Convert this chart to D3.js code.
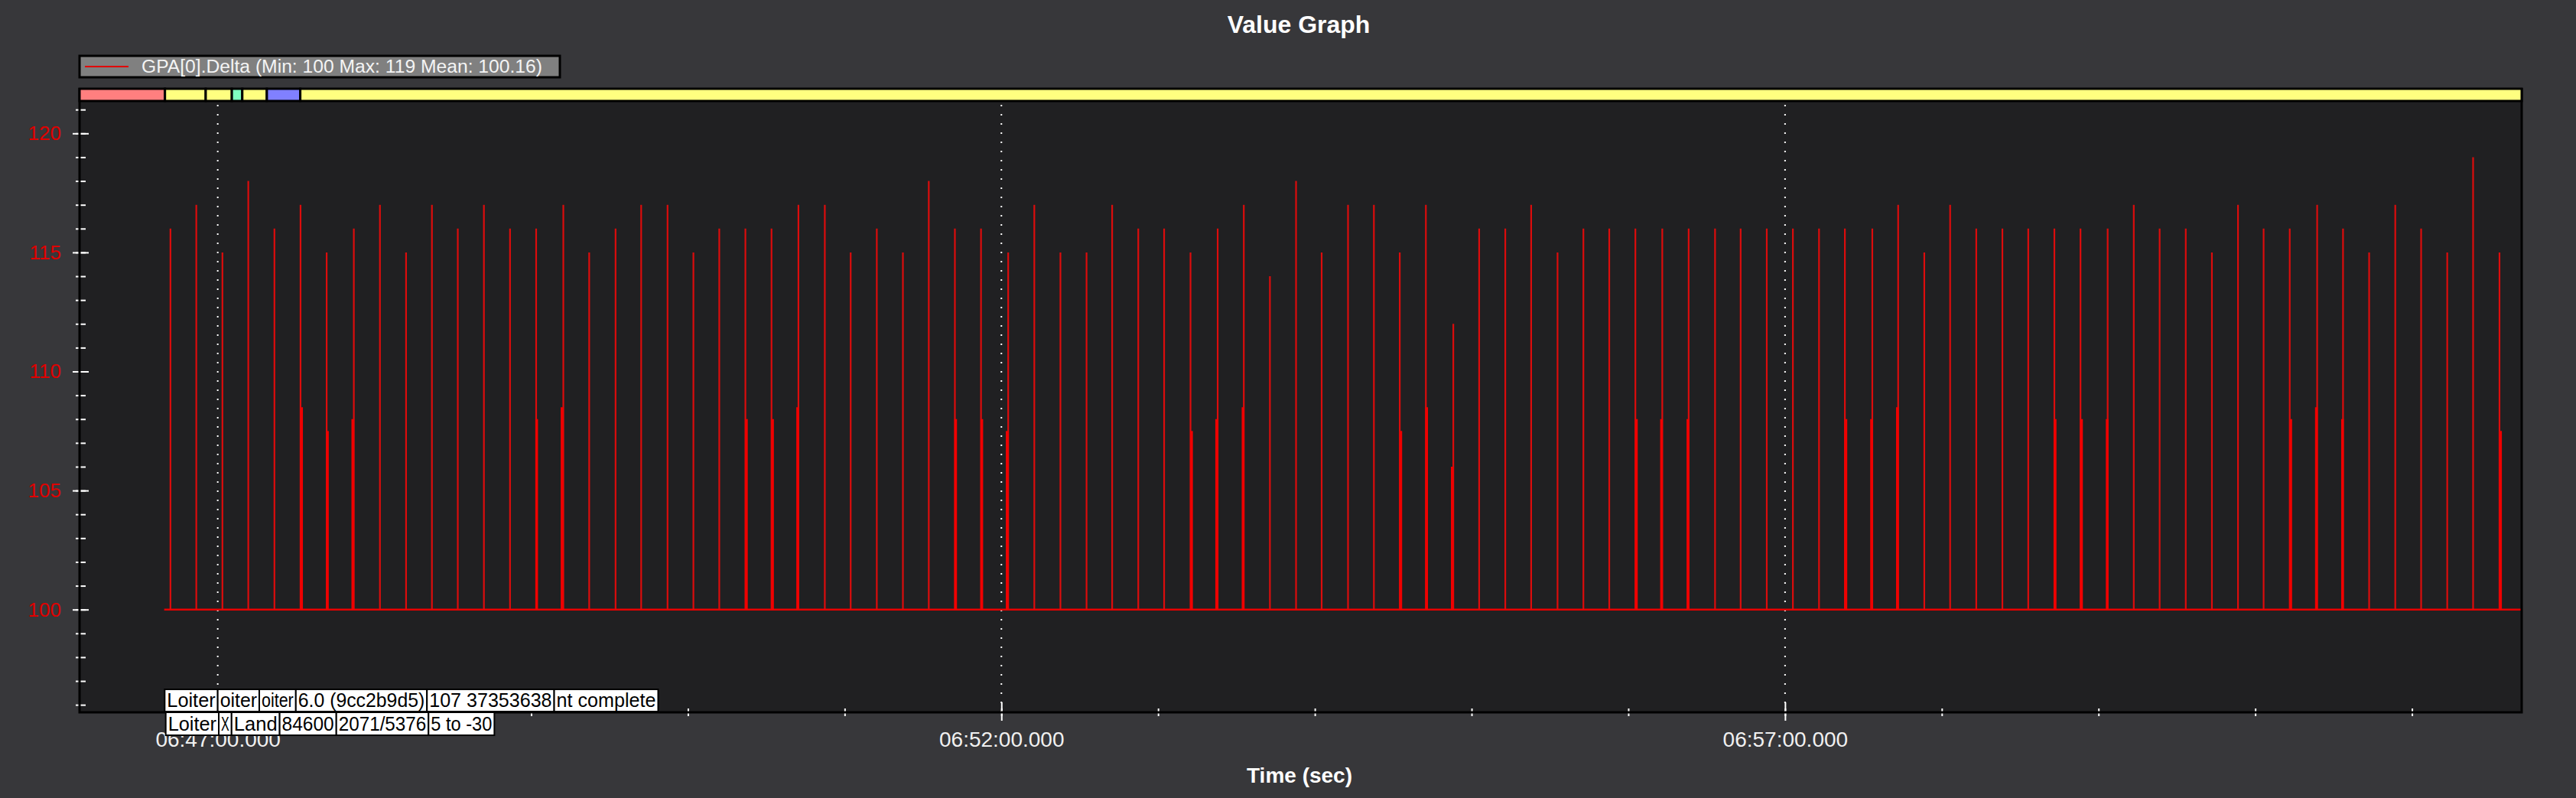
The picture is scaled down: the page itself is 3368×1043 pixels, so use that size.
<!DOCTYPE html>
<html>
<head>
<meta charset="utf-8">
<script src="https://cdn.jsdelivr.net/npm/d3@7"></script>
<style>
  body { margin: 0; background: #37373a; }
  svg { display: block; }
</style>
</head>
<body>
<div id="wrapper"></div>
<script>
// data
const seriesName = "GPA[0].Delta  (Min: 100 Max: 119 Mean: 100.16)"
const baselineValue = 100
const baselineSpan = ["06:46:39.5", "07:01:42.0"]
const axisSpan = ["06:46:07.1", "07:01:42.0"]

const spikeTimes = [
  "06:46:41.9", "06:46:51.8", "06:47:01.8", "06:47:11.7", "06:47:21.7", "06:47:31.7", "06:47:41.7", "06:47:52.1", "06:48:02.1", "06:48:12.1",
  "06:48:22.0", "06:48:31.9", "06:48:41.9", "06:48:51.9", "06:49:01.9", "06:49:12.3", "06:49:22.2", "06:49:32.3", "06:49:42.1", "06:49:52.2",
  "06:50:02.1", "06:50:12.0", "06:50:22.0", "06:50:32.0", "06:50:42.3", "06:50:52.4", "06:51:02.3", "06:51:12.3", "06:51:22.3", "06:51:32.2",
  "06:51:42.2", "06:51:52.2", "06:52:02.6", "06:52:12.6", "06:52:22.6", "06:52:32.6", "06:52:42.4", "06:52:52.4", "06:53:02.3", "06:53:12.4",
  "06:53:22.8", "06:53:32.8", "06:53:42.8", "06:53:52.8", "06:54:02.6", "06:54:12.7", "06:54:22.6", "06:54:32.5", "06:54:42.5", "06:54:53.0",
  "06:55:02.9", "06:55:12.9", "06:55:22.8", "06:55:32.9", "06:55:42.8", "06:55:52.7", "06:56:02.7", "06:56:13.0", "06:56:23.1", "06:56:33.2",
  "06:56:43.0", "06:56:53.0", "06:57:03.0", "06:57:13.0", "06:57:22.9", "06:57:33.4", "06:57:43.3", "06:57:53.3", "06:58:03.2", "06:58:13.2",
  "06:58:23.2", "06:58:33.1", "06:58:43.1", "06:58:53.1", "06:59:03.5", "06:59:13.5", "06:59:23.4", "06:59:33.4", "06:59:43.4", "06:59:53.4",
  "07:00:03.2", "07:00:13.2", "07:00:23.7", "07:00:33.6", "07:00:43.6", "07:00:53.6", "07:01:03.5", "07:01:13.5", "07:01:23.4", "07:01:33.5",
]
const spikeValues = [
  116, 117, 115, 118, 116, 117, 115, 116, 117, 115,
  117, 116, 117, 116, 116, 117, 115, 116, 117, 117,
  115, 116, 116, 116, 117, 117, 115, 116, 115, 118,
  116, 116, 115, 117, 115, 115, 117, 116, 116, 115,
  116, 117, 114, 118, 115, 117, 117, 115, 117, 112,
  116, 116, 117, 115, 116, 116, 116, 116, 116, 116,
  116, 116, 116, 116, 116, 116, 117, 115, 117, 116,
  116, 116, 116, 116, 116, 117, 116, 116, 115, 117,
  116, 116, 117, 116, 115, 117, 116, 115, 119, 115,
]

// the short, thicker spikes
const bumpTimes = [
  "06:47:32.1", "06:47:42.0", "06:47:51.7", "06:49:02.1", "06:49:11.8", "06:50:22.4", "06:50:32.4", "06:50:42.0", "06:51:42.5", "06:51:52.5",
  "06:52:02.2", "06:53:12.8", "06:53:22.4", "06:53:32.5", "06:54:32.9", "06:54:42.8", "06:54:52.6", "06:56:03.1", "06:56:12.7", "06:56:22.8",
  "06:57:23.3", "06:57:33.1", "06:57:43.0", "06:58:43.4", "06:58:53.5", "06:59:03.3", "07:00:13.6", "07:00:23.4", "07:00:33.4", "07:01:33.9",
]
const bumpValues = [
  108.5, 107.5, 108, 108, 108.5, 108, 108, 108.5, 108, 108,
  107.5, 107.5, 108, 108.5, 107.5, 108.5, 106, 108, 108, 108,
  108, 108, 108.5, 108, 108, 108, 108, 108.5, 108, 107.5,
]

// flight mode bar
const modeStarts = ["06:46:07.1", "06:46:39.8", "06:46:55.4", "06:47:05.4", "06:47:09.4", "06:47:18.8", "06:47:31.6"]
const modeColors = ["#ff7f7f", "#ffff80", "#ffff80", "#80ffc0", "#ffff80", "#8080ff", "#ffff80"]

// message boxes at the bottom (text as visible)
const row1Times = ["06:46:39.7", "06:47:00.0", "06:47:15.9", "06:47:29.9", "06:48:20.1", "06:49:08.8", "06:49:48.6"]
const row1Texts = ["Loiter", "oiter", "oiter", "6.0 (9cc2b9d5)", "107 37353638", "nt complete"]
const row2Times = ["06:46:40.1", "06:47:00.4", "06:47:05.3", "06:47:23.7", "06:47:45.4", "06:48:20.7", "06:48:45.9"]
const row2Texts = ["Loiter", "X", "Land", "84600", "2071/5376", "5 to -30"]

const yMajorTicks = [100, 105, 110, 115, 120]
const yMinorTicks = d3.range(96, 122)
const xMajorTicks = ["06:47:00.0", "06:52:00.0", "06:57:00.0"]

function drawChart() {
  const clock = s => {
    const [h, m, sec] = s.split(":").map(Number)
    return new Date(2000, 0, 1, h, m, 0, Math.round(sec * 1000))
  }

  const width = 3368
  const height = 1043
  const plot = { left: 104, right: 3297, top: 115, bottom: 931, barBottom: 133 }

  const svg = d3.select("#wrapper")
    .append("svg")
      .attr("width", width)
      .attr("height", height)
      .style("font-family", "'Liberation Sans', Arial, sans-serif")

  svg.append("rect")
      .attr("width", width)
      .attr("height", height)
      .attr("fill", "#37373a")

  // scales
  const xScale = d3.scaleTime()
    .domain(axisSpan.map(clock))
    .range([plot.left, plot.right])
  const yScale = d3.scaleLinear()
    .domain([95.684, 121.906])
    .range([plot.bottom, plot.top])

  // title
  svg.append("text")
      .attr("x", 1698)
      .attr("y", 43)
      .attr("text-anchor", "middle")
      .attr("fill", "#ffffff")
      .attr("font-weight", "bold")
      .attr("font-size", 32)
      .text("Value Graph")

  // plot background
  svg.append("rect")
      .attr("x", plot.left)
      .attr("y", plot.top)
      .attr("width", plot.right - plot.left)
      .attr("height", plot.bottom - plot.top)
      .attr("fill", "#202022")

  // dotted grid on major times
  svg.append("g")
    .selectAll("line")
    .data(xMajorTicks.map(clock))
    .join("line")
      .attr("x1", d => xScale(d))
      .attr("x2", d => xScale(d))
      .attr("y1", plot.barBottom + 4)
      .attr("y2", plot.bottom)
      .attr("stroke", "#ffffff")
      .attr("stroke-width", 2)
      .attr("stroke-dasharray", "2,10")

  // x axis labels (drawn before the message boxes, which cover them)
  const xAxis = svg.append("g")
      .attr("transform", `translate(0,${plot.bottom})`)
      .call(d3.axisBottom(xScale)
        .tickValues(xMajorTicks.map(clock))
        .tickFormat(d3.timeFormat("%H:%M:%S.%L"))
        .tickSize(0)
        .tickPadding(0))
  xAxis.select(".domain").remove()
  xAxis.selectAll("text")
      .attr("y", 45)
      .attr("dy", 0)
      .attr("fill", "#f0f0f0")
      .attr("font-size", 28)
      .attr("font-family", "'Liberation Sans', Arial, sans-serif")

  // minor x ticks (every minute) and major ticks
  const xMinor = svg.append("g")
      .attr("transform", `translate(0,${plot.bottom})`)
      .call(d3.axisBottom(xScale)
        .ticks(d3.timeMinute.every(1))
        .tickFormat(""))
  xMinor.select(".domain").remove()
  xMinor.selectAll("line")
      .attr("y1", -5)
      .attr("y2", 5)
      .attr("stroke", "#ffffff")
      .attr("stroke-width", 2)
  xAxis.selectAll(".tick line")
      .attr("y1", -13)
      .attr("y2", 11)
      .attr("stroke", "#ffffff")
      .attr("stroke-width", 2)

  // series
  const series = svg.append("g")
  series.append("path")
      .datum(baselineSpan.map(clock))
      .attr("d", d3.line().x(d => xScale(d)).y(() => yScale(baselineValue)))
      .attr("fill", "none")
      .attr("stroke", "#e80000")
      .attr("stroke-width", 2.5)

  series.selectAll(".spike")
    .data(spikeTimes.map((t, i) => ({ time: clock(t), value: spikeValues[i] })))
    .join("line")
      .attr("class", "spike")
      .attr("x1", d => xScale(d.time))
      .attr("x2", d => xScale(d.time))
      .attr("y1", yScale(baselineValue))
      .attr("y2", d => yScale(d.value))
      .attr("stroke", "#dc0c0c")
      .attr("stroke-width", 2.2)

  series.selectAll(".bump")
    .data(bumpTimes.map((t, i) => ({ time: clock(t), value: bumpValues[i] })))
    .join("line")
      .attr("class", "bump")
      .attr("x1", d => xScale(d.time))
      .attr("x2", d => xScale(d.time))
      .attr("y1", yScale(baselineValue))
      .attr("y2", d => yScale(d.value))
      .attr("stroke", "#f00000")
      .attr("stroke-width", 3.5)

  // y axis
  const yMinor = svg.append("g")
      .attr("transform", `translate(${plot.left},0)`)
      .call(d3.axisLeft(yScale).tickValues(yMinorTicks).tickFormat(""))
  yMinor.select(".domain").remove()
  yMinor.selectAll("line")
      .attr("x1", -5)
      .attr("x2", 8)
      .attr("stroke", "#ffffff")
      .attr("stroke-width", 2)

  const yAxis = svg.append("g")
      .attr("transform", `translate(${plot.left},0)`)
      .call(d3.axisLeft(yScale).tickValues(yMajorTicks).tickSize(0).tickPadding(24))
  yAxis.select(".domain").remove()
  yAxis.selectAll("line")
      .attr("x1", -9)
      .attr("x2", 12)
      .attr("stroke", "#ffffff")
      .attr("stroke-width", 2)
  yAxis.selectAll("text")
      .attr("fill", "#e00000")
      .attr("font-size", 26)
      .attr("font-family", "'Liberation Sans', Arial, sans-serif")

  // plot frame
  svg.append("path")
      .attr("d", `M${plot.left},${plot.top}V${plot.bottom}H${plot.right}V${plot.top}`)
      .attr("fill", "none")
      .attr("stroke", "#000000")
      .attr("stroke-width", 3)

  // mode bar
  const modeEnds = [...modeStarts.slice(1), axisSpan[1]]
  svg.append("g")
    .selectAll("rect")
    .data(modeStarts.map((s, i) => ({ start: clock(s), end: clock(modeEnds[i]), color: modeColors[i] })))
    .join("rect")
      .attr("x", d => xScale(d.start))
      .attr("y", plot.top + 1)
      .attr("width", d => xScale(d.end) - xScale(d.start))
      .attr("height", plot.barBottom - plot.top - 2)
      .attr("fill", d => d.color)
      .attr("stroke", "#000000")
      .attr("stroke-width", 3)

  // message boxes
  function drawRow(times, texts, top, rowHeight) {
    const items = texts.map((t, i) => ({ text: t, start: clock(times[i]), end: clock(times[i + 1]) }))
    const g = svg.append("g")
    const box = g.selectAll("g")
      .data(items)
      .join("g")
    box.append("rect")
        .attr("x", d => xScale(d.start))
        .attr("y", top)
        .attr("width", d => xScale(d.end) - xScale(d.start))
        .attr("height", rowHeight)
        .attr("fill", "#ffffff")
        .attr("stroke", "#000000")
        .attr("stroke-width", 2)
    box.append("text")
        .attr("x", d => xScale(d.start) + 3)
        .attr("y", top + rowHeight - 6)
        .attr("fill", "#000000")
        .attr("font-size", 25)
        .attr("font-family", "'Liberation Sans Narrow', 'Liberation Sans', Arial, sans-serif")
        .attr("textLength", d => Math.max(4, xScale(d.end) - xScale(d.start) - 6))
        .attr("lengthAdjust", "spacingAndGlyphs")
        .text(d => d.text)
  }
  drawRow(row1Times, row1Texts, 901, 29)
  drawRow(row2Times, row2Texts, 931, 30)

  // x axis title
  svg.append("text")
      .attr("x", 1699)
      .attr("y", 1023)
      .attr("text-anchor", "middle")
      .attr("fill", "#ffffff")
      .attr("font-weight", "bold")
      .attr("font-size", 28)
      .text("Time (sec)")

  // legend
  const legend = svg.append("g")
  legend.append("rect")
      .attr("x", 104)
      .attr("y", 73)
      .attr("width", 628)
      .attr("height", 28)
      .attr("fill", "#808080")
      .attr("stroke", "#000000")
      .attr("stroke-width", 3)
  legend.append("line")
      .attr("x1", 111)
      .attr("x2", 168)
      .attr("y1", 87)
      .attr("y2", 87)
      .attr("stroke", "#e00000")
      .attr("stroke-width", 2)
  legend.append("text")
      .attr("x", 185)
      .attr("y", 95)
      .attr("fill", "#f4f4f4")
      .attr("font-size", 23)
      .attr("textLength", 524)
      .attr("lengthAdjust", "spacingAndGlyphs")
      .text(seriesName)
}
drawChart()
</script>
</body>
</html>
